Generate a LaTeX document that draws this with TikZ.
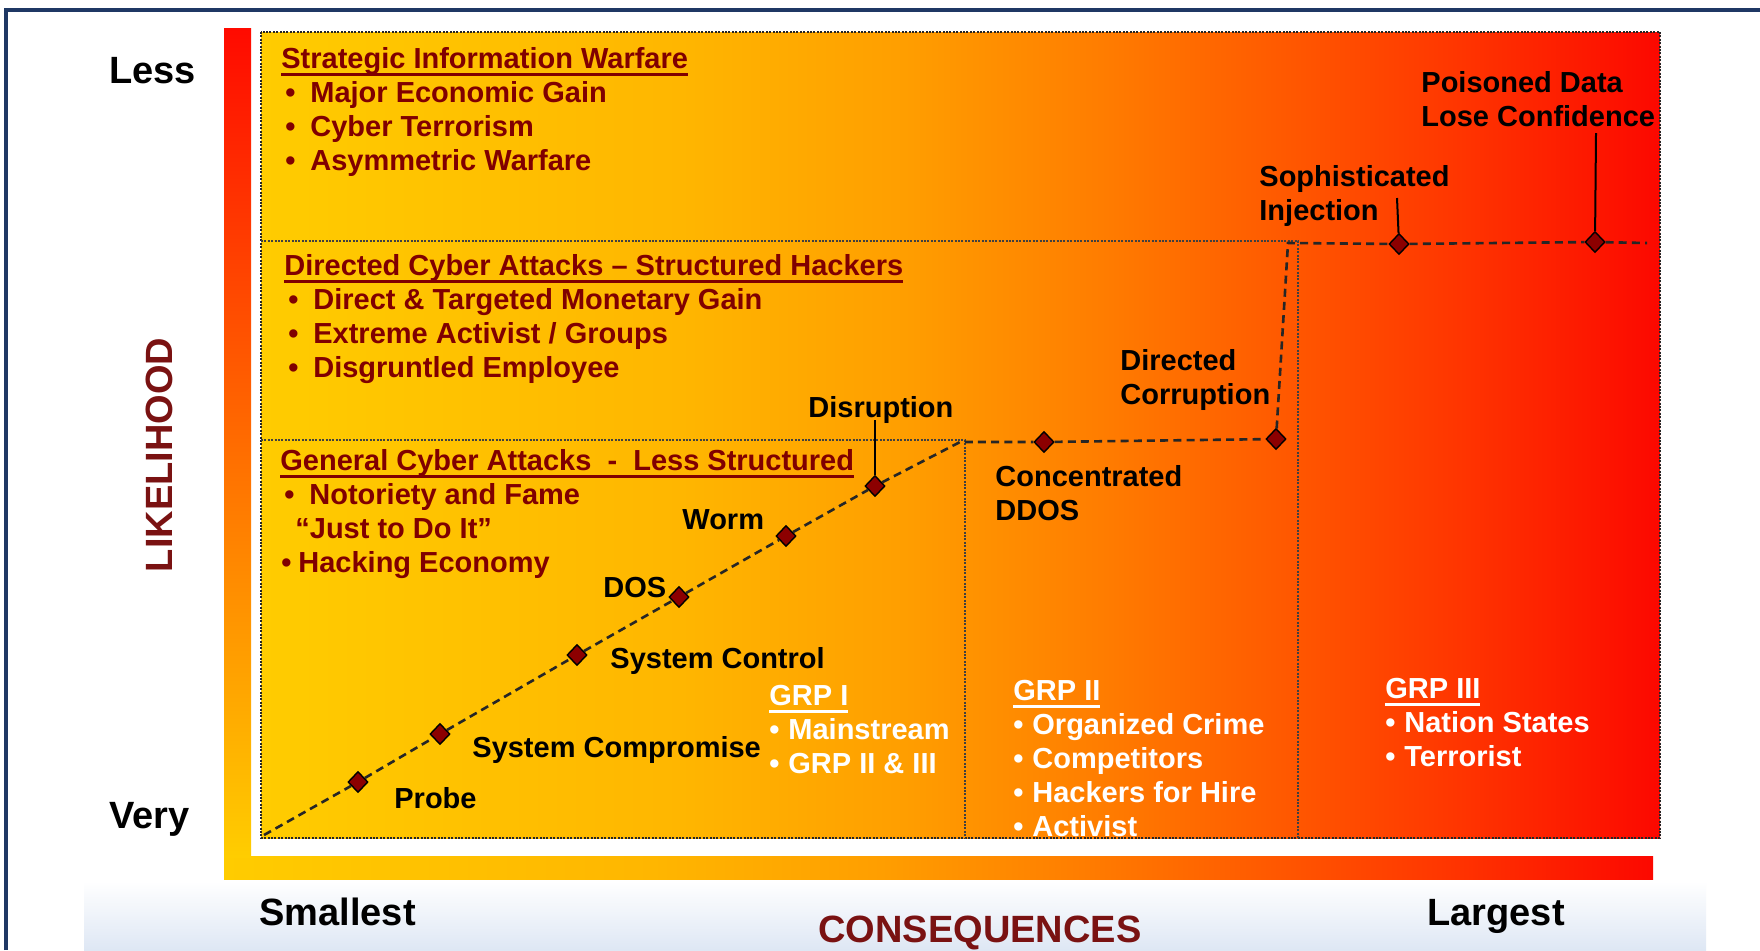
\documentclass[tikz,border=0pt]{standalone}
\usepackage{fontspec}
\setmainfont{Liberation Sans}
\usetikzlibrary{shapes.geometric,calc}

% palette
\definecolor{maroon}{RGB}{128,0,0}
\definecolor{axisred}{RGB}{122,18,18}
\definecolor{framenavy}{RGB}{31,56,100}
\definecolor{markfill}{RGB}{140,0,0}
\definecolor{stripblue}{RGB}{222,231,244}
\definecolor{barTop}{RGB}{255,10,0}
\definecolor{barMid}{RGB}{255,140,0}
\definecolor{barBot}{RGB}{255,205,0}
\definecolor{heatA}{RGB}{255,204,0}
\definecolor{heatB}{RGB}{255,182,0}
\definecolor{heatC}{RGB}{255,158,0}
\definecolor{heatD}{RGB}{255,125,0}
\definecolor{heatE}{RGB}{255,92,0}
\definecolor{heatF}{RGB}{255,55,0}
\definecolor{heatG}{RGB}{252,8,0}

% yellow-to-red ramp, left to right
\pgfdeclarehorizontalshading{heat}{100bp}{color(0bp)=(heatA); color(25bp)=(heatA);
  color(40bp)=(heatB); color(48bp)=(heatC); color(55bp)=(heatD); color(61bp)=(heatE);
  color(67.5bp)=(heatF); color(75bp)=(heatG); color(100bp)=(heatG)}

% underline at a fixed depth below the baseline
\newlength{\ulwidth}
\newcommand{\ulined}[1]{\settowidth{\ulwidth}{#1}\rlap{\rule[-3.6pt]{\ulwidth}{1.3pt}}#1}
% bulleted entries
\newcommand{\bit}[1]{\hspace*{2pt}\makebox[12.5pt][l]{\textbullet}#1}
\newcommand{\gbit}[1]{\makebox[9.5pt][l]{\textbullet}#1}
% fixed first-line height, so that the node top sits 12pt above the first baseline
\newcommand{\fst}{\rule{0pt}{12pt}}

\tikzset{
  lbl/.style={font=\fontsize{14.5}{17}\selectfont\bfseries, inner sep=0pt, align=left, anchor=north west},
  redtxt/.style={lbl, text=maroon},
  blktxt/.style={lbl, text=black},
  whttxt/.style={lbl, text=white},
  axistxt/.style={font=\fontsize{19}{22}\selectfont\bfseries, inner sep=0pt, anchor=base west},
  zone/.style={draw=black!75, line width=0.75pt, dash pattern=on 1pt off 0.7pt},
  trail/.style={draw=black!85, line width=1.3pt, dash pattern=on 4pt off 2.6pt},
  leader/.style={draw=black, line width=1pt},
  mk/.style={diamond, fill=markfill, draw=black, line width=0.7pt, minimum width=10pt, minimum height=10.5pt, inner sep=0pt},
}

\begin{document}
\begin{tikzpicture}[x=0.5pt, y=-0.5pt]
\useasboundingbox (0,0) rectangle (1760,950);

% frame and backdrop
\fill[white] (0,0) rectangle (1760,950);
\shade[top color=white, bottom color=stripblue] (84,881) rectangle (1706,950);
\draw[framenavy, line width=1.6pt] (6,950) -- (6,10) -- (1760,10);

% axis ramps
\shade[shading=heat] (224,856) rectangle (1653,879);
\shade[top color=barTop, middle color=barMid, bottom color=barBot] (224,28) rectangle (251,857);

% chart field and its zones
\shade[shading=heat] (261,32) rectangle (1660,838);
\draw[zone, draw=black!85] (261,32) rectangle (1660,838);
\draw[zone] (261,241) -- (1298,241) -- (1298,838);
\draw[zone] (261,440) -- (965,440) -- (965,838);

% zone headings
\node[redtxt] (strat) at (281,44) {\fst\ulined{Strategic Information Warfare}\\
  \bit{Major Economic Gain}\\ \bit{Cyber Terrorism}\\ \bit{Asymmetric Warfare}};
\node[redtxt] (direct) at (284,251) {\fst\ulined{Directed Cyber Attacks – Structured Hackers}\\
  \bit{Direct \& Targeted Monetary Gain}\\ \bit{Extreme Activist / Groups}\\ \bit{Disgruntled Employee}};
\node[redtxt] (general) at (280,446) {\fst\ulined{General Cyber Attacks\ \ -\ \ Less Structured}\\
  \bit{Notoriety and Fame}\\ \hspace*{7.5pt}“Just to Do It”\\
  \hspace*{0.5pt}\makebox[8.5pt][l]{\textbullet}Hacking Economy};

% attack markers
\coordinate (org)   at (264,835);
\node[mk] (probe) at (358,782) {};
\node[mk] (comp)  at (440,734) {};
\node[mk] (sctl)  at (577,655) {};
\node[mk] (dos)   at (679,597) {};
\node[mk] (worm)  at (786,536) {};
\node[mk] (disr)  at (875,486) {};
\coordinate (knee1) at (960,442);
\node[mk] (ddos)  at (1044,442) {};
\node[mk] (dcorr) at (1276,439) {};
\coordinate (knee2) at (1288,243);
\node[mk] (soph)  at (1399,244) {};
\node[mk] (pois)  at (1595,242) {};
\coordinate (tail)  at (1647,243);

\draw[trail] (org) -- (probe) -- (comp) -- (sctl) -- (dos) -- (worm) -- (disr)
  -- (knee1) -- (ddos) -- (dcorr) -- (knee2) -- (soph) -- (pois) -- (tail);

% marker labels
\node[blktxt] (disrl)  at (808,393)  {\fst Disruption};
\node[blktxt] (wormlb) at (682,505)  {\fst Worm};
\node[blktxt] (doslb)  at (603,573)  {\fst DOS};
\node[blktxt] (sctllb) at (610,644)  {\fst System Control};
\node[blktxt] (complb) at (472,733)  {\fst System Compromise};
\node[blktxt] (problb) at (394,784)  {\fst Probe};
\node[blktxt] (ddoslb) at (995,462)  {\fst Concentrated\\ DDOS};
\node[blktxt] (dcorlb) at (1120,346) {\fst Directed\\ Corruption};
\node[blktxt] (sophlb) at (1259,162) {\fst Sophisticated\\ Injection};
\node[blktxt] (poislb) at (1421,68)  {\fst Poisoned Data\\ Lose Confidence};

% leader lines
\coordinate (disrtop) at (875,420);
\coordinate (sophtop) at (1397,198);
\coordinate (poistop) at (1596,133);
\draw[leader] (disr) -- (disrtop);
\draw[leader] (soph) -- (sophtop);
\draw[leader] (pois) -- (poistop);

% adversary groups
\node[whttxt] (grpi)   at (769,681)  {\fst\ulined{GRP I}\\ \gbit{Mainstream}\\ \gbit{GRP II \& III}};
\node[whttxt] (grpii)  at (1013,676) {\fst\ulined{GRP II}\\ \gbit{Organized Crime}\\ \gbit{Competitors}\\
  \gbit{Hackers for Hire}\\ \gbit{Activist}};
\node[whttxt] (grpiii) at (1385,674) {\fst\ulined{GRP III}\\ \gbit{Nation States}\\ \gbit{Terrorist}};

% axes
\node[axistxt] (less)     at (109,83)   {Less};
\node[axistxt] (very)     at (109,828)  {Very};
\node[axistxt] (smallest) at (259,925)  {Smallest};
\node[axistxt] (largest)  at (1427,925) {Largest};
\node[axistxt, text=axisred] (conseq) at (818,942) {CONSEQUENCES};
\node[font=\fontsize{19}{22}\selectfont\bfseries, inner sep=0pt, text=axisred, rotate=90] (likely) at (159,455) {LIKELIHOOD};
\end{tikzpicture}
\end{document}
